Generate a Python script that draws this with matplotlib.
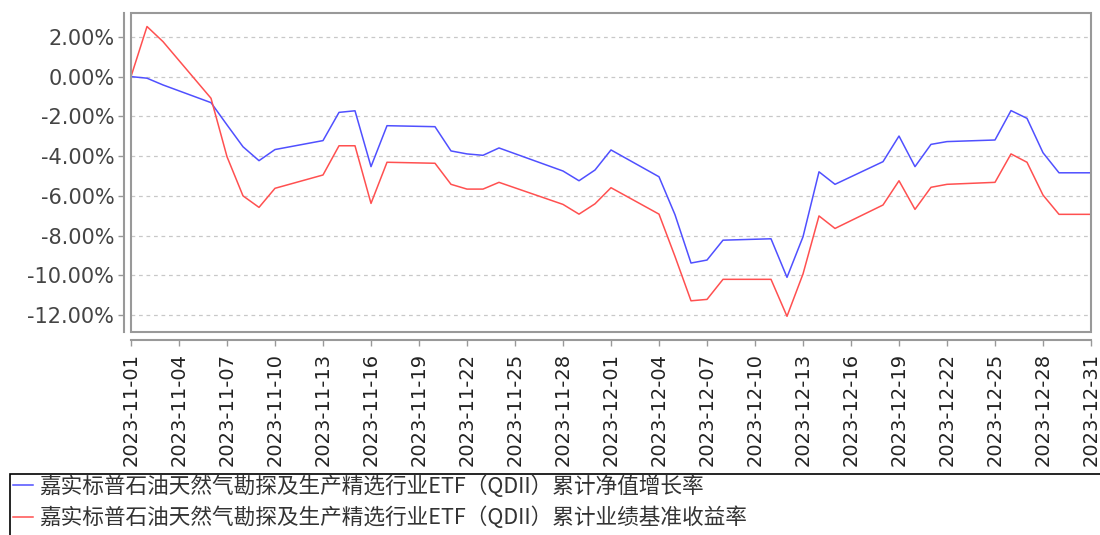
import matplotlib
matplotlib.use('Agg')
import matplotlib.pyplot as plt
import matplotlib.dates as mdates
from matplotlib.patches import Rectangle
import pandas as pd

# dates with a visible point on the chart
dates = ['2023-11-01', '2023-11-02', '2023-11-03', '2023-11-06', '2023-11-07', '2023-11-08',
         '2023-11-09', '2023-11-10', '2023-11-13', '2023-11-14', '2023-11-15', '2023-11-16',
         '2023-11-17', '2023-11-20', '2023-11-21', '2023-11-22', '2023-11-23', '2023-11-24',
         '2023-11-28', '2023-11-29', '2023-11-30', '2023-12-01', '2023-12-04', '2023-12-05',
         '2023-12-06', '2023-12-07', '2023-12-08', '2023-12-11', '2023-12-12', '2023-12-13',
         '2023-12-14', '2023-12-15', '2023-12-18', '2023-12-19', '2023-12-20', '2023-12-21',
         '2023-12-22', '2023-12-25', '2023-12-26', '2023-12-27', '2023-12-28', '2023-12-29',
         '2023-12-31']

# cumulative NAV growth, %
nav = [0.00, -0.08, -0.42, -1.31, -2.43, -3.53, -4.23, -3.67, -3.22, -1.80, -1.72, -4.53,
       -2.47, -2.52, -3.74, -3.89, -3.96, -3.59, -4.75, -5.24, -4.70, -3.69, -5.04, -6.95,
       -9.38, -9.23, -8.23, -8.16, -10.10, -8.06, -4.79, -5.42, -4.28, -2.99, -4.53, -3.41,
       -3.27, -3.19, -1.71, -2.10, -3.83, -4.84, -4.84]

# cumulative benchmark return, %
bench = [0.00, 2.52, 1.76, -1.09, -4.03, -6.00, -6.58, -5.62, -4.95, -3.48, -3.48, -6.38,
         -4.31, -4.36, -5.42, -5.66, -5.66, -5.32, -6.43, -6.92, -6.40, -5.59, -6.92, -9.05,
         -11.28, -11.21, -10.20, -10.20, -12.06, -9.93, -7.01, -7.64, -6.46, -5.24, -6.68, -5.57,
         -5.42, -5.32, -3.89, -4.31, -5.96, -6.93, -6.93]

yticks = [-12, -10, -8, -6, -4, -2, 0, 2]

name = '嘉实标普石油天然气勘探及生产精选行业ETF（QDII）'
labels = [name + '累计净值增长率', name + '累计业绩基准收益率']

x = pd.to_datetime(dates)

fig = plt.figure(figsize=(11, 5.35), dpi=100)
ax = fig.add_axes([131 / 1100, 1 - 332 / 535, 960 / 1100, 319 / 535])

l1, = ax.plot(x, nav, color='#5050ff', lw=1.1)
l2, = ax.plot(x, bench, color='#ff5050', lw=1.1)

ax.set_xlim(pd.Timestamp('2023-11-01'), pd.Timestamp('2023-12-31'))
ax.set_ylim(-12.85, 3.2)

ax.set_yticks(yticks)
ax.set_yticklabels(['%.2f%%' % v for v in yticks])
ax.yaxis.grid(True, linestyle=(0, (3, 3)), color='#c8c8c8', lw=0.9)
ax.set_axisbelow(True)

ticks = pd.date_range('2023-11-01', '2023-12-31', freq='3D')
ax.set_xticks(ticks)
ax.xaxis.set_major_formatter(mdates.DateFormatter('%Y-%m-%d'))
ax.tick_params(axis='both', length=4, color='#999999', width=1)
ax.tick_params(axis='x', labelrotation=90, labelsize=14, labelcolor='#222222', pad=5)
ax.tick_params(axis='y', labelsize=15, labelcolor='#444444', pad=3)

# frame around the plot area plus detached axis lines
for s in ['top', 'right']:
    ax.spines[s].set_visible(False)
ax.spines['left'].set_position(('outward', 5))
ax.spines['bottom'].set_position(('outward', 6))
for s in ['left', 'bottom']:
    ax.spines[s].set_color('#999999')
    ax.spines[s].set_linewidth(1.5)
ax.add_patch(Rectangle((0, 0), 1, 1, transform=ax.transAxes, fill=False,
                       edgecolor='#999999', lw=1.5, clip_on=False, zorder=5))

# legend box runs off the right edge
fig.patches.append(Rectangle((10 / 1100, -0.05), 1.1, (535 - 474) / 535 + 0.05,
                             transform=fig.transFigure, fill=False,
                             edgecolor='black', lw=1.2))
leg = fig.legend([l1, l2], labels, loc='upper left',
                 bbox_to_anchor=(13 / 1100, 1 - 475 / 535), frameon=False,
                 prop={'family': ['Noto Sans CJK SC', 'DejaVu Sans'], 'size': 15.6},
                 handlelength=0.9, handletextpad=0.3, labelspacing=0.42,
                 borderpad=0, borderaxespad=0)
for t in leg.get_texts():
    t.set_color('#333333')

fig.savefig('out.png', dpi=100)
